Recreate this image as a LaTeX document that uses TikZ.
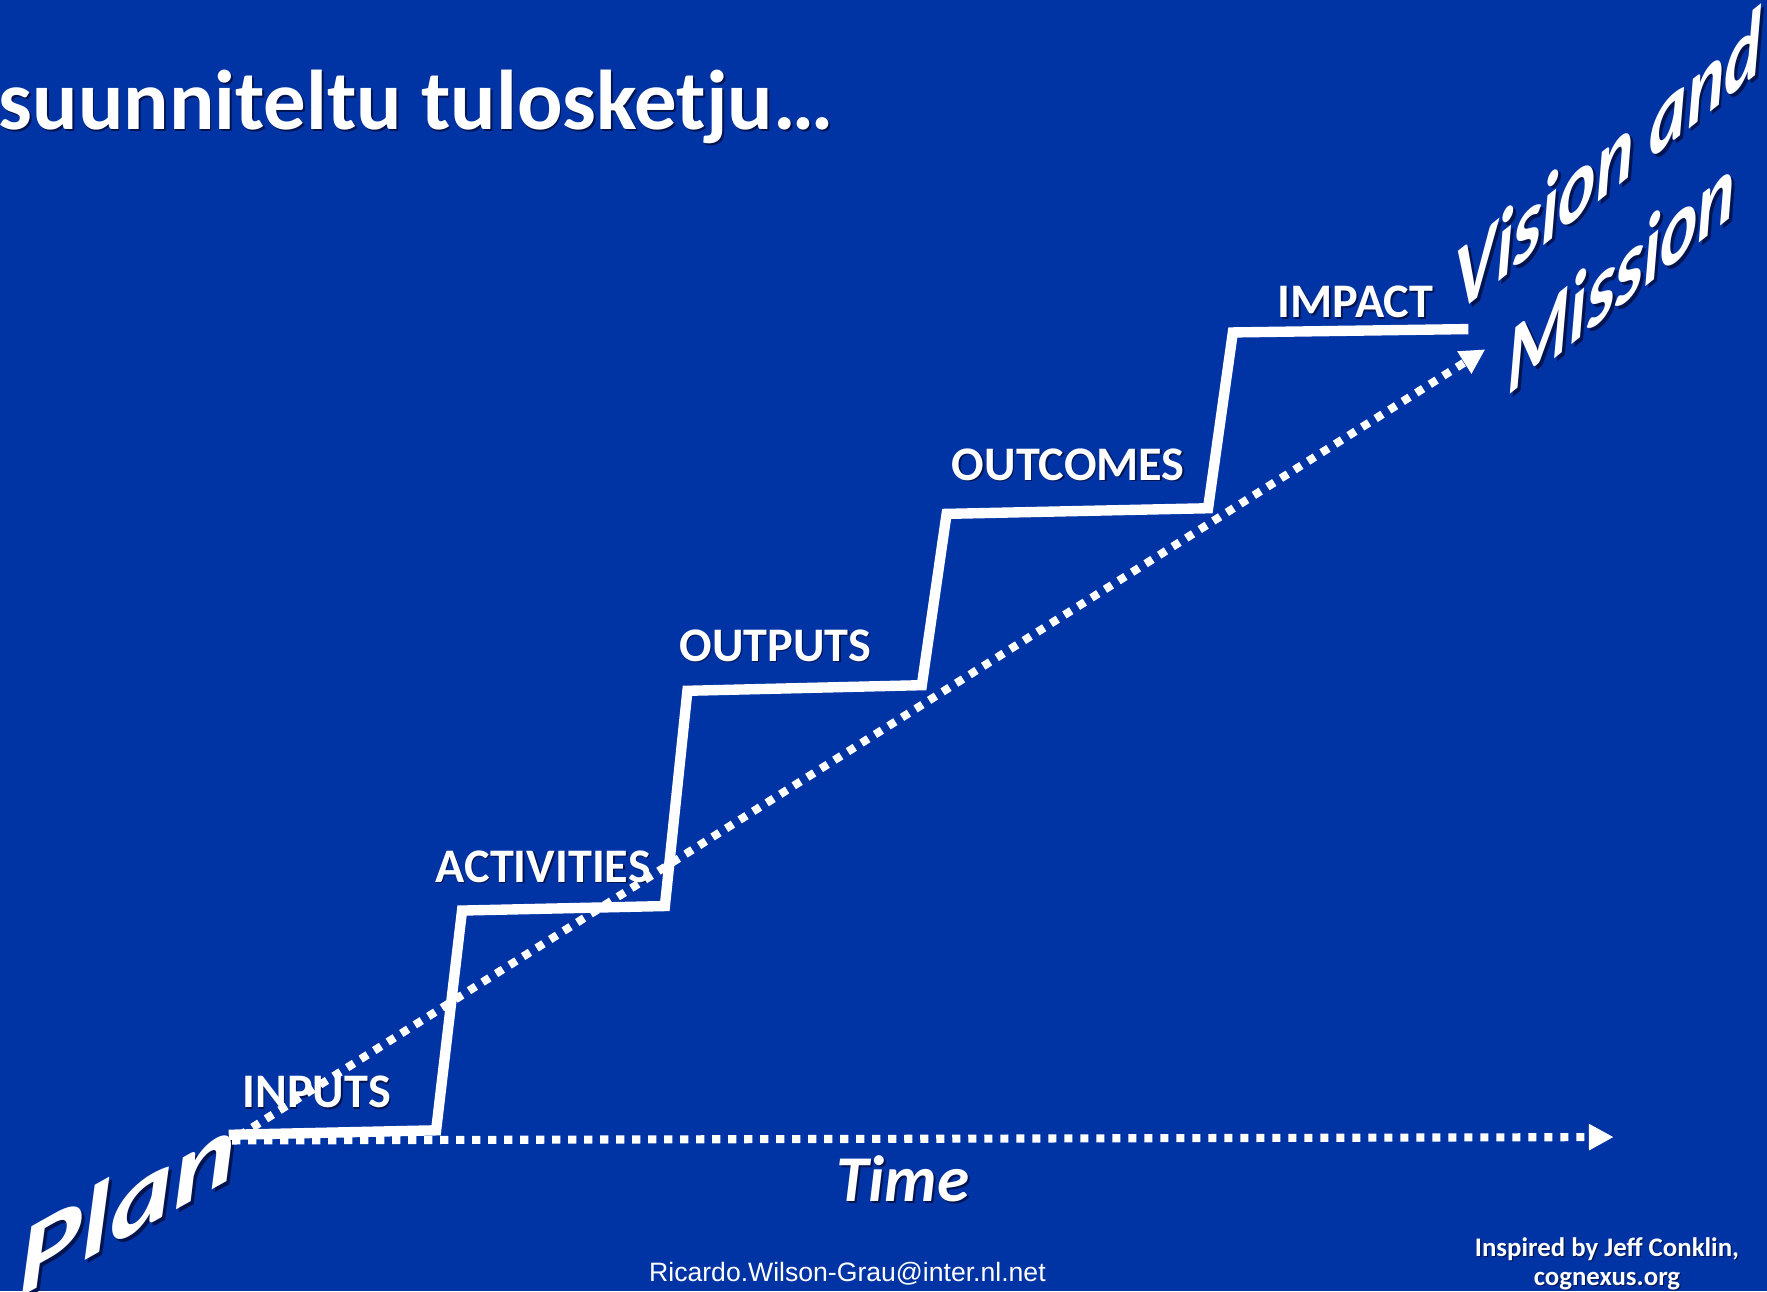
\documentclass[tikz,border=0pt]{standalone}
\usepackage{fontspec}
\setmainfont{Carlito}
\newfontfamily\arialfont{Liberation Sans}
\usetikzlibrary{arrows.meta,calc}
\definecolor{bgblue}{RGB}{0,51,163}
\definecolor{shblue}{RGB}{0,20,80}
\begin{document}
\begin{tikzpicture}[x=0.5pt,y=-0.5pt,
  stair/.style={white, line width=4.6pt, line join=miter},
  dotline/.style={white, line width=3.6pt, dash pattern=on 3.6pt off 3.5pt, -{Triangle[length=11pt,width=11pt]}},
  txt/.style={text=white, inner sep=0pt},
  sh/.style={text=shblue, inner sep=0pt},
  lblfont/.style={font=\bfseries\fontsize{21.4}{26}\selectfont, anchor=base},
  titlefont/.style={font=\bfseries\fontsize{37.6}{44}\selectfont, anchor=base west},
  timefont/.style={font=\bfseries\itshape\fontsize{29}{34}\selectfont, anchor=base},
  planfont/.style={font=\bfseries\itshape\fontsize{44}{50}\selectfont, anchor=base, yslant=0.56, xscale=1.2},
  visfont/.style={font=\bfseries\itshape\fontsize{42.5}{48}\selectfont, anchor=base, yslant=0.8, xscale=0.74},
  smallfont/.style={font=\bfseries\fontsize{11.9}{14}\selectfont, anchor=base},
  mailfont/.style={font=\arialfont\fontsize{11.8}{14}\selectfont, anchor=base}
]
\fill[bgblue] (0,0) rectangle (1568,1146);
\useasboundingbox (0,0) rectangle (1568,1146);

% title
\node[sh, titlefont] (title-sh) at (0,116.5) {suunniteltu tulosketju…};
\node[txt, titlefont] (title) at (-1.5,115) {suunniteltu tulosketju…};

% step labels
\foreach \n/\t/\x/\y in {inputs/INPUTS/281/983, activities/ACTIVITIES/482/783, outputs/OUTPUTS/688/587, outcomes/OUTCOMES/948/426, impact/IMPACT/1203/282}{
  \node[sh, lblfont] (\n-sh) at (\x+1.2,\y+1.2) {\t};
  \node[txt, lblfont] (\n) at (\x,\y) {\t};
}

% Time
\node[sh, timefont] (time-sh) at (803,1068) {Time};
\node[txt, timefont] (time) at (801,1066) {Time};

% Plan
\node[sh, planfont] (plan-sh) at (115.5,1100.5) {Plan};
\node[txt, planfont] (plan) at (113,1098) {Plan};

% Vision and Mission
\node[sh, visfont] (vision-sh) at (1429.5,174.5) {Vision and};
\node[txt, visfont] (vision) at (1427,172) {Vision and};
\node[sh, visfont] (mission-sh) at (1441.5,273.5) {Mission};
\node[txt, visfont] (mission) at (1439,271) {Mission};

% footer
\node[txt, mailfont] (mail) at (752,1137) {Ricardo.Wilson-Grau@inter.nl.net};
\node[sh, smallfont] (insp-sh) at (1427,1116) {Inspired by Jeff Conklin,};
\node[txt, smallfont] (insp) at (1426,1115) {Inspired by Jeff Conklin,};
\node[sh, smallfont] (cog-sh) at (1427,1142) {cognexus.org};
\node[txt, smallfont] (cog) at (1426,1141) {cognexus.org};

% staircase
\coordinate (s0) at (203,1007);
\coordinate (s1) at (387,1003);
\coordinate (s2) at (410,808);
\coordinate (s3) at (590,804);
\coordinate (s4) at (610,613);
\coordinate (s5) at (818,608);
\coordinate (s6) at (840,456);
\coordinate (s7) at (1072,451);
\coordinate (s8) at (1094,295);
\coordinate (s9) at (1303,292);
\draw[stair] (s0) -- (s1) -- (s2) -- (s3) -- (s4) -- (s5) -- (s6) -- (s7) -- (s8) -- (s9);

% dotted arrows
\coordinate (h0) at (206,1012);
\coordinate (h1) at (1432,1009);
\draw[dotline] (h0) -- (h1);
\coordinate (d0) at (212,1008);
\coordinate (d1) at (1318,310);
\draw[dotline] (d0) -- (d1);
\end{tikzpicture}
\end{document}
